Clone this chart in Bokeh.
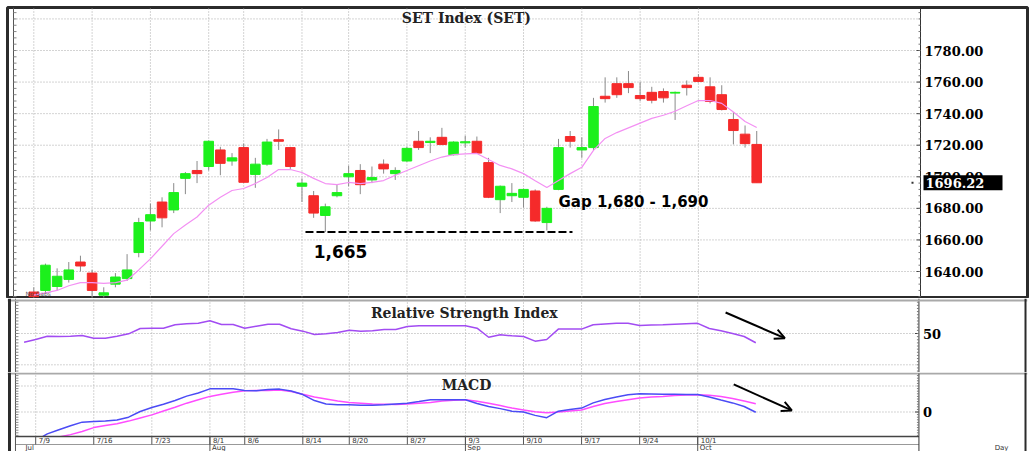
import numpy as np
from bokeh.plotting import figure
from bokeh.layouts import column
from bokeh.models import Range1d, Label, Arrow, OpenHead, ColumnDataSource
from bokeh.embed import file_html
from bokeh.resources import INLINE
from bokeh.core.properties import value

# ---------------- data ----------------
dates = ["7/9", "7/10", "7/11", "7/12", "7/13", "7/16", "7/17", "7/18", "7/19", "7/20",
         "7/23", "7/24", "7/25", "7/26", "7/31", "8/1", "8/2", "8/3", "8/6", "8/7", "8/8",
         "8/9", "8/10", "8/14", "8/15", "8/16", "8/17", "8/20", "8/21", "8/22", "8/23", "8/24",
         "8/27", "8/28", "8/29", "8/30", "8/31", "9/3", "9/4", "9/5", "9/6", "9/7", "9/10",
         "9/11", "9/12", "9/13", "9/14", "9/17", "9/18", "9/19", "9/20", "9/21", "9/24",
         "9/25", "9/26", "9/27", "9/28", "10/1", "10/2", "10/3", "10/4", "10/5", "10/8"]
opens = [1627, 1628, 1630.5, 1635, 1646, 1639, 1625, 1632, 1635.5, 1652,
         1672, 1684, 1679, 1699, 1704, 1706.5, 1717, 1710, 1718.5, 1701.5, 1708,
         1723.5, 1718.5, 1694, 1688, 1675.5, 1688, 1700, 1704, 1698, 1708, 1702,
         1710, 1722.5, 1721.7, 1725, 1714, 1721.5, 1722.5, 1709, 1685.5, 1688, 1687,
         1691, 1671, 1692, 1725.5, 1717, 1718.5, 1751, 1759, 1759, 1751.5,
         1753.5, 1754, 1753, 1758, 1763, 1757, 1752, 1736.3, 1727, 1720.5]
highs = [1630, 1645, 1642, 1646, 1650, 1641, 1630, 1639, 1651, 1674,
         1683, 1687, 1696, 1703, 1710, 1723, 1719, 1715, 1721, 1712, 1724,
         1730, 1719, 1699, 1691, 1683, 1695, 1707, 1708, 1706.5, 1711, 1706,
         1719, 1729, 1725, 1731, 1722.5, 1726, 1725.5, 1712, 1694.5, 1696, 1692.5,
         1692, 1681, 1724, 1729, 1725, 1750, 1763, 1763, 1767, 1760,
         1757, 1756, 1754, 1761, 1765, 1763, 1758, 1741, 1732.5, 1729]
lows = [1621, 1626, 1628, 1633, 1640, 1622, 1623, 1630, 1634, 1649,
        1666, 1668, 1677, 1689, 1696, 1704, 1701, 1707, 1696, 1693, 1707,
        1717, 1705, 1684, 1674, 1665, 1687, 1694, 1689, 1696, 1702, 1698,
        1709.5, 1717, 1715, 1720, 1713.5, 1718.5, 1714.5, 1686.5, 1677, 1684, 1680.5,
        1671.5, 1666, 1691.5, 1718.5, 1712, 1717, 1747, 1750, 1753, 1748,
        1746.5, 1747, 1736, 1751.5, 1759.8, 1746.5, 1742, 1720.5, 1718.5, 1696.2]
closes = [1624, 1644, 1637, 1641, 1643.5, 1628, 1626.5, 1636.5, 1641, 1671,
          1676, 1674, 1690, 1702, 1702, 1722.5, 1708.5, 1712, 1696.5, 1708, 1722,
          1722.5, 1706.5, 1696, 1677, 1681, 1690, 1702, 1695, 1699.5, 1705, 1704,
          1718, 1718.5, 1722.5, 1720.5, 1722, 1722.2, 1715, 1687, 1694, 1689.5, 1692,
          1672, 1680, 1718.5, 1722.5, 1718.5, 1744.5, 1749.5, 1752, 1756.5, 1749.5,
          1748.5, 1750, 1753.5, 1756.5, 1760.4, 1747.7, 1742.6, 1729.3, 1721, 1696.22]
ma_line = [1625, 1626.5, 1628, 1631, 1633, 1633, 1632.5, 1633, 1634.5, 1641,
           1648, 1656, 1664, 1669.5, 1674.5, 1682, 1687, 1691.3, 1692.6, 1695.7, 1699.5,
           1704.6, 1704.6, 1702.7, 1699, 1695.7, 1695, 1696.4, 1695.7, 1696.5, 1697.6, 1701,
           1704, 1707, 1710, 1712.5, 1714, 1714.5, 1714.8, 1711, 1707.2, 1705, 1702,
           1697.5, 1693.2, 1697.6, 1702, 1706, 1716.7, 1724.3, 1728, 1731, 1734,
           1737, 1739, 1741.5, 1745, 1748.3, 1748.3, 1746.5, 1741, 1735, 1731.2]
rsi_dates = ["7/6"] + dates
rsi = [44.4, 46.2, 48.3, 48.1, 48.3, 48.7, 47.0, 47.0, 48.3, 49.8, 53.2,
       53.4, 53.4, 55.6, 56.2, 56.6, 58.1, 55.8, 55.8, 53.4, 54.7, 55.9,
       55.9, 53.0, 51.5, 49.4, 49.8, 50.6, 52.1, 51.5, 51.7, 52.6, 52.6,
       54.5, 54.9, 54.9, 54.9, 54.9, 54.9, 53.4, 47.6, 49.2, 48.5, 48.1,
       45.1, 46.2, 52.8, 52.8, 52.8, 55.6, 56.1, 56.5, 56.5, 55.1,
       55.4, 55.6, 55.9, 56.2, 56.5, 53.2, 51.7, 50.0, 48.1, 44.1]
macd = [-11, -8.4, -6.8, -5.3, -3.9, -3.7, -3.5, -3.1, -2.0, 0.2,
        1.7, 3.0, 4.4, 6.1, 7.3, 8.9, 8.9, 8.9, 8.3, 8.2, 8.7,
        8.8, 8.1, 6.7, 4.4, 3.1, 2.8, 2.8, 2.6, 2.6, 2.8, 3.1,
        3.4, 4.0, 4.7, 4.7, 4.7, 4.7, 3.3, 2.1, 1.3, 0.3, 0.0,
        -1.3, -2.2, 0.3, 1.0, 1.5, 3.5, 4.8, 5.8, 6.6, 7.0,
        6.9, 6.8, 6.8, 6.7, 6.7, 5.8, 4.6, 3.5, 2.1, -0.1]
signal = [-14, -12, -9.6, -8.7, -7.5, -6.0, -5.2, -4.5, -3.5, -2.3,
          -1.1, 0.4, 1.8, 3.4, 4.7, 6.0, 6.8, 7.6, 8.2, 8.3, 8.3,
          8.5, 7.9, 6.8, 5.8, 5.0, 4.2, 3.7, 3.4, 3.1, 3.0, 2.9,
          3.1, 3.4, 3.7, 4.2, 4.5, 4.7, 4.1, 3.4, 2.5, 1.5, 0.8,
          0.1, -0.3, 0.0, 0.4, 0.8, 2.1, 3.3, 4.0, 4.7, 5.4,
          5.8, 6.0, 6.3, 6.5, 6.6, 6.4, 6.0, 5.2, 4.2, 3.2]
price_ticks = [1640, 1660, 1680, 1700, 1720, 1740, 1760, 1780]
price_grid = [1640, 1660, 1680, 1700, 1720, 1740, 1760, 1780, 1800]
rsi_ticks = [50]
rsi_grid = [30, 50]
macd_ticks = [0]
macd_grid = [0, 10]
date_ticks = ["7/9", "7/16", "7/23", "8/1", "8/6", "8/14", "8/20", "8/27",
              "9/3", "9/10", "9/17", "9/24", "10/1"]
months = ["Jul", "Aug", "Sep", "Oct"]
month_first = ["7/2", "8/1", "9/3", "10/1"]
last_price = 1696.22

# ---------------- layout helpers (screen geometry) ----------------
X0, DX = 33.3, 11.66            # screen x of first candle, px per trading day
def xr(lpx, rpx):
    return ((lpx - X0) / DX, (rpx - X0) / DX)
def yr(tpx, bpx, v, vpx, ppu):
    return (v - (bpx - vpx) / ppu, v + (vpx - tpx) / ppu)
def xi(px):
    return (px - X0) / DX

AXX = xi(920)        # right price axis
XL = xi(13)          # inner left edge
GRID_C = "#a8a8a8"
GREEN = "#1cf01c"
RED = "#f52a2a"
SERIF = "DejaVu Serif"
SANS = "DejaVu Sans"
FRAME_C = "#2b2b2b"
SEP_C = "#a9a9a9"
x = np.arange(len(dates))
tick_pos = [dates.index(d) for d in date_ticks]
n_t = len(tick_pos)


def panel(h, xlim, ylim, top, bottom, left, right, outline=True):
    p = figure(width=1030, height=h, x_range=Range1d(*xlim), y_range=Range1d(*ylim),
               x_axis_type=None, y_axis_type=None, toolbar_location=None,
               output_backend="svg", min_border_left=left, min_border_right=right,
               min_border_top=top, min_border_bottom=bottom)
    p.outline_line_color = FRAME_C if outline else None
    p.outline_line_width = 3
    p.background_fill_color = "white"
    p.border_fill_color = "white"
    return p


def grids(p, yvals, ylo, yhi):
    p.segment(x0=[XL] * len(yvals), y0=yvals, x1=[AXX] * len(yvals), y1=yvals,
              line_color=GRID_C, line_dash="1 2", line_width=1)
    p.segment(x0=tick_pos, y0=[ylo] * n_t, x1=tick_pos, y1=[yhi] * n_t,
              line_color=GRID_C, line_dash="1 2", line_width=1)


def axis(p, ylo, yhi, major, minor, labels):
    p.segment(x0=[AXX], y0=[ylo], x1=[AXX], y1=[yhi], line_color="#333333", line_width=1)
    p.segment(x0=[XL], y0=[ylo], x1=[XL], y1=[yhi], line_color="#555555", line_width=1)
    p.segment(x0=[AXX - 4 / DX] * len(major), y0=major, x1=[AXX] * len(major), y1=major,
              line_color="#444444", line_width=1)
    p.segment(x0=[AXX - 2 / DX] * len(minor), y0=minor, x1=[AXX] * len(minor), y1=minor,
              line_color="#777777", line_width=1)
    p.segment(x0=[XL] * len(minor), y0=minor, x1=[XL + 3 / DX] * len(minor), y1=minor,
              line_color="#888888", line_width=1)
    p.text(x=[AXX] * len(major), y=major, text=labels, x_offset=4,
           text_font=value(SERIF), text_font_style="bold", text_font_size="13px",
           text_color="black", text_align="left", text_baseline="middle")


def sides(p, ylo, yhi):
    p.segment(x0=[xi(7)], y0=[ylo], x1=[xi(7)], y1=[yhi], line_color=FRAME_C, line_width=3)
    p.segment(x0=[xi(1027)], y0=[ylo], x1=[xi(1027)], y1=[yhi],
              line_color=FRAME_C, line_width=2)


# ---------------- main price panel ----------------
XL1 = xr(7, 1027)
YL1 = yr(7, 297, 1780, 50, 1.5786)
PPU1 = 1.5786
p1 = panel(298, XL1, YL1, 7, 1, 7, 3)
grids(p1, price_grid, YL1[0], YL1[1])

o = np.array(opens)
c = np.array(closes)
cols = [GREEN if cc >= oo else RED for oo, cc in zip(o, c)]
src = ColumnDataSource(dict(x=x, o=o, h=highs, l=lows, c=c,
                            top=np.maximum(o, c), bot=np.minimum(o, c), col=cols))
p1.segment(x0="x", y0="l", x1="x", y1="h", source=src, line_color="#8a8a8a", line_width=1)
p1.vbar(x="x", width=0.82, top="top", bottom="bot", source=src,
        fill_color="col", line_color="col", line_width=1)
p1.line(x, ma_line, line_color="#f390f3", line_width=1.2)
axis(p1, YL1[0], YL1[1], price_ticks, list(range(1624, 1808, 4)),
     [f"{t:.2f}" for t in price_ticks])

# last price tag
p1.quad(left=[xi(923)], right=[xi(1002)], bottom=[last_price - 7.5 / PPU1],
        top=[last_price + 7.5 / PPU1], fill_color="black", line_color=None)
p1.text(x=[AXX], y=[last_price], text=[f"{last_price:.2f}"], x_offset=5,
        text_font=value(SERIF), text_font_style="bold", text_font_size="13px",
        text_color="white", text_align="left", text_baseline="middle")
p1.scatter(x=[xi(912)], y=[last_price], size=2, marker="square",
           fill_color="#333333", line_color=None)

p1.line([23.3, 46.2], [1665, 1665], line_color="black", line_width=2, line_dash="8 3")
p1.add_layout(Label(x=24.0, y=1652.7, text="1,665", text_font=SANS,
                    text_font_style="bold", text_font_size="17px", text_color="black",
                    text_align="left", text_baseline="middle"))
p1.add_layout(Label(x=45.0, y=1684.2, text="Gap 1,680 -  1,690", text_font=SANS,
                    text_font_style="bold", text_font_size="15px", text_color="black",
                    text_align="left", text_baseline="middle"))
p1.add_layout(Label(x=37.1, y=1800.3, text="SET Index (SET)", text_font=SERIF,
                    text_font_style="bold", text_font_size="14px", text_color="#222222",
                    text_align="center", text_baseline="middle"))
p1.add_layout(Label(x=xi(25), y=1626.0, text="No Gaps", text_font=SANS,
                    text_font_size="6px", text_color="#555555",
                    text_align="left", text_baseline="middle"))

# ---------------- RSI panel ----------------
XL3 = xr(5, 1029)
YL2 = yr(298, 372, 50, 333, 1.565)
p2 = panel(74, XL3, YL2, 0, 0, 5, 1, outline=False)
grids(p2, rsi_grid, YL2[0], YL2[1])
p2.line(np.arange(-1, len(dates)), rsi, line_color="#a24cf2", line_width=1.5)
axis(p2, YL2[0], YL2[1], rsi_ticks, list(range(26, 72, 2)), [str(t) for t in rsi_ticks])
sep_top = 50 + (333 - 300) / 1.565
p2.segment(x0=[XL3[0]], y0=[sep_top], x1=[XL3[1]], y1=[sep_top], line_color=SEP_C, line_width=2)
sides(p2, YL2[0], YL2[1])
p2.add_layout(Label(x=36.9, y=63.4, text="Relative Strength Index", text_font=SERIF,
                    text_font_style="bold", text_font_size="14px", text_color="#222222",
                    text_align="center", text_baseline="middle"))
p2.add_layout(Arrow(end=OpenHead(size=10, line_width=2, line_color="black"),
                    x_start=59.4, y_start=63.4, x_end=64.5, y_end=47.0,
                    line_width=2, line_color="black"))

# ---------------- MACD panel ----------------
YL3 = yr(372, 451, 0, 411.5, 2.6)
MB = -(436 - 411.5) / 2.6          # bottom of MACD plotting area
ROW = -(444 - 411.5) / 2.6         # separator between day and month rows
SEP3 = (411.5 - 373) / 2.6         # separator RSI / MACD
p3 = panel(79, XL3, YL3, 0, 0, 5, 1, outline=False)
grids(p3, macd_grid, MB, YL3[1])
p3.line(x, signal, line_color="#ff4cff", line_width=1.5)
p3.line(x, macd, line_color="#4b4bf5", line_width=1.5)
# date strip
p3.quad(left=[XL3[0]], right=[XL3[1]], bottom=[YL3[0]], top=[MB],
        fill_color="white", line_color=None)
p3.segment(x0=[XL], y0=[MB], x1=[AXX], y1=[MB], line_color="#444444", line_width=1.5)
p3.segment(x0=[XL], y0=[ROW], x1=[AXX], y1=[ROW], line_color="#999999", line_width=1)
p3.segment(x0=[XL3[0]], y0=[SEP3], x1=[XL3[1]], y1=[SEP3], line_color=SEP_C, line_width=2)
axis(p3, YL3[0], SEP3, macd_ticks, [v for v in range(-9, 15)], [str(t) for t in macd_ticks])
p3.segment(x0=tick_pos, y0=[MB] * n_t, x1=tick_pos, y1=[ROW] * n_t,
           line_color="#555555", line_width=1)
m_pos = [XL if d not in dates else dates.index(d) for d in month_first]
p3.segment(x0=m_pos[1:], y0=[MB] * 3, x1=m_pos[1:], y1=[YL3[0]] * 3,
           line_color="#555555", line_width=1)
p3.text(x=tick_pos, y=[-(440 - 411.5) / 2.6] * n_t, text=date_ticks, x_offset=3,
        text_font=value(SANS), text_font_size="7px", text_color="#333333",
        text_align="left", text_baseline="middle")
p3.text(x=[xi(23), m_pos[1], m_pos[2], m_pos[3]], y=[-(447.5 - 411.5) / 2.6] * 4,
        text=months, x_offset=[0, 2, 2, 2],
        text_font=value(SANS), text_font_size="7px", text_color="#333333",
        text_align="left", text_baseline="middle")
p3.text(x=[xi(1003)], y=[-(447.5 - 411.5) / 2.6], text=["Day"],
        text_font=value(SANS), text_font_size="7px", text_color="#333333",
        text_align="center", text_baseline="middle")
sides(p3, YL3[0], YL3[1])
p3.add_layout(Label(x=37.1, y=10.2, text="MACD", text_font=SERIF,
                    text_font_style="bold", text_font_size="14px", text_color="#222222",
                    text_align="center", text_baseline="middle"))
p3.add_layout(Arrow(end=OpenHead(size=10, line_width=2, line_color="black"),
                    x_start=60.1, y_start=10.6, x_end=65.1, y_end=0.6,
                    line_width=2, line_color="black"))

layout = column(p1, p2, p3, spacing=0)
open("out.html", "w").write(file_html(layout, INLINE))
